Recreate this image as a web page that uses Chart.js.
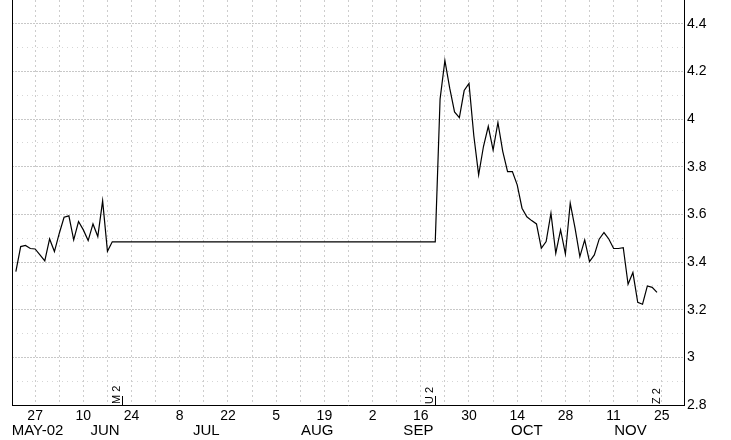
<!DOCTYPE html>
<html>
<head>
<meta charset="utf-8">
<script src="https://cdn.jsdelivr.net/npm/chart.js@4.4.1/dist/chart.umd.min.js"></script>
<style>html,body{margin:0;background:#fff}canvas{display:block}</style>
</head>
<body>
<canvas id="chart" width="731" height="440"></canvas>
<script>
// x = trading day, counted from Mon 27 May 2002 (day 0); 5 trading days per week
const tradingDays = [-4,-3,-2,-1,0,1,2,3,4,5,6,7,8,9,10,11,12,13,14,15,16,
  83,84,85,86,87,88,89,90,91,92,93,94,95,96,97,98,99,100,101,102,103,104,105,106,107,108,109,
  110,111,112,113,114,115,116,117,118,119,120,121,122,123,124,125,126,127,128,129];
const prices = [3.36,3.465,3.47,3.457,3.455,3.43,3.405,3.497,3.444,3.52,3.588,3.594,3.493,3.57,3.535,3.49,3.56,3.507,3.657,3.445,3.485,
  3.485,4.084,4.246,4.13,4.03,4.006,4.12,4.15,3.93,3.766,3.885,3.97,3.87,3.986,3.865,3.78,3.78,3.724,3.626,3.59,3.574,3.56,3.458,3.486,3.605,3.437,3.535,
  3.434,3.647,3.542,3.423,3.493,3.402,3.43,3.496,3.524,3.497,3.457,3.457,3.46,3.307,3.356,3.231,3.223,3.30,3.294,3.273];

const dayTicks = [0,10,20,30,40,50,60,70,80,90,100,110,120,130];
const dayLabels = ['27','10','24','8','22','5','19','2','16','30','14','28','11','25'];
const monthCenters = [0.5,14.5,35.5,58.5,79.5,102,123.5];
const monthLabels = ['MAY-02','JUN','JUL','AUG','SEP','OCT','NOV'];
const priceTicks = [2.8,3,3.2,3.4,3.6,3.8,4,4.2,4.4];
const priceLabels = ['2.8','3','3.2','3.4','3.6','3.8','4','4.2','4.4'];
const contractDays = [18,83,130];
const contractLabels = ['M2','U2','Z2'];
const rollDays = [18,83];

const FONT = '"Liberation Sans", Arial, sans-serif';
const X_MIN = -4.8, X_MAX = 134.6;

const weekTicks = [];
for (let d = 0; d <= 130; d += 5) weekTicks.push(d);
const priceGrid = [];
for (let k = 28; k <= 44; k++) priceGrid.push(k / 10);

const isMajor = ctx => ctx.tick && priceTicks.includes(ctx.tick.value);
const noPad = s => { s.paddingTop = 0; s.paddingBottom = 0; s.paddingLeft = 0; s.paddingRight = 0; };

const contractMarks = {
  id: 'contractMarks',
  afterDatasetsDraw(chart) {
    const { ctx, chartArea: a, scales: { x } } = chart;
    ctx.save();
    ctx.strokeStyle = '#000';
    ctx.lineWidth = 1;
    rollDays.forEach(d => {
      const px = Math.round(x.getPixelForValue(d)) + 0.5;
      ctx.beginPath(); ctx.moveTo(px, a.bottom - 9); ctx.lineTo(px, a.bottom); ctx.stroke();
    });
    ctx.fillStyle = '#000';
    ctx.font = '11px ' + FONT;
    ctx.textBaseline = 'middle';
    ctx.textAlign = 'left';
    contractLabels.forEach((t, k) => {
      ctx.save();
      ctx.translate(x.getPixelForValue(contractDays[k]) - 5, a.bottom - 1);
      ctx.rotate(-Math.PI / 2);
      ctx.fillText(t.split('').join(' '), 0, 0);
      ctx.restore();
    });
    ctx.restore();
  }
};

new Chart(document.getElementById('chart'), {
  type: 'line',
  data: {
    datasets: [{
      data: tradingDays.map((d, i) => ({ x: d, y: prices[i] })),
      borderColor: '#000', borderWidth: 1.2, pointRadius: 0, tension: 0, fill: false
    }]
  },
  options: {
    responsive: false, animation: false,
    layout: { padding: 0 },
    plugins: { legend: { display: false }, tooltip: { enabled: false } },
    scales: {
      x: {
        type: 'linear', position: 'bottom', weight: 0, min: X_MIN, max: X_MAX,
        afterBuildTicks: s => { s.ticks = weekTicks.map(v => ({ value: v })); },
        afterFit: s => { s.height = 17; noPad(s); },
        ticks: {
          autoSkip: false, maxRotation: 0, padding: 3, color: '#000',
          font: { family: FONT, size: 14 },
          callback: v => { const k = dayTicks.indexOf(v); return k < 0 ? '' : dayLabels[k]; }
        },
        grid: { color: '#cdcdcd', lineWidth: 1, drawTicks: false },
        border: { color: '#000', width: 1, dash: ctx => ctx.tick ? [2, 3] : [] }
      },
      xm: {
        type: 'linear', position: 'bottom', weight: 1, min: X_MIN, max: X_MAX,
        afterBuildTicks: s => { s.ticks = monthCenters.map(v => ({ value: v })); },
        afterFit: s => { s.height = 18; noPad(s); },
        ticks: {
          autoSkip: false, maxRotation: 0, padding: 0, color: '#000',
          font: { family: FONT, size: 15 },
          callback: (v, i) => monthLabels[i]
        },
        grid: { display: false, drawTicks: false },
        border: { display: false }
      },
      y: {
        position: 'right', min: 2.8, max: 4.5,
        afterBuildTicks: s => { s.ticks = priceGrid.map(v => ({ value: v })); },
        afterFit: s => { s.width = 47; noPad(s); },
        ticks: {
          autoSkip: false, padding: 3, color: '#000',
          font: { family: FONT, size: 14 },
          callback: v => { const k = priceTicks.indexOf(v); return k < 0 ? '' : priceLabels[k]; }
        },
        grid: { color: ctx => isMajor(ctx) ? '#c8c8c8' : '#d6d6d6', lineWidth: 1, drawTicks: false },
        border: { color: '#000', width: 1, dash: ctx => !ctx.tick ? [] : (isMajor(ctx) ? [2, 1] : [1, 4]) }
      },
      yL: {
        position: 'left', min: 2.8, max: 4.5,
        afterFit: s => { s.width = 12; noPad(s); },
        ticks: { display: false },
        grid: { drawOnChartArea: false, drawTicks: false },
        border: { color: '#000', width: 1 }
      }
    }
  },
  plugins: [contractMarks]
});
</script>
</body>
</html>
